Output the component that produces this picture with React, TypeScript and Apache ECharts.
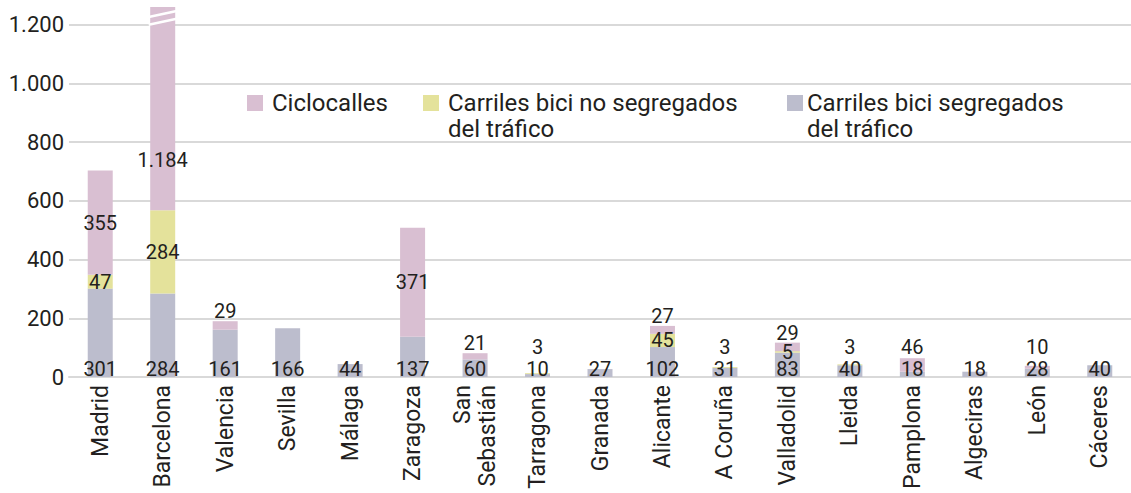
import React, { useEffect, useRef } from "react";
import * as echarts from "echarts";

const categories = [
  "Madrid", "Barcelona", "Valencia", "Sevilla", "Málaga", "Zaragoza", "San\nSebastián",
  "Tarragona", "Granada", "Alicante", "A Coruña", "Valladolid", "Lleida", "Pamplona",
  "Algeciras", "León", "Cáceres",
];
const segregados = [301, 284, 161, 166, 44, 137, 60, 10, 27, 102, 31, 83, 40, 18, 18, 28, 40];
const noSegregados = [47, 284, 0, 0, 0, 0, 0, 3, 0, 45, 3, 5, 3, 0, 0, 0, 0];
const ciclocalles = [355, 1184, 29, 0, 0, 371, 21, 0, 0, 27, 0, 29, 0, 46, 0, 10, 0];
const yTicks = [0, 200, 400, 600, 800, 1000, 1200];

const SERIES_NAMES = [
  "Carriles bici segregados del tráfico",
  "Carriles bici no segregados del tráfico",
  "Ciclocalles",
];
const COLORS = ["#bcbdcd", "#e4e29b", "#d9bfd2"];
const TEXT = "#231f20";
const FONT = "Roboto";
const Y_MAX = 1260;
const PLOT_H = 370;

const fmt = (v: number) => String(v).replace(/\B(?=(\d{3})+(?!\d))/g, ".");

export default function App() {
  const ref = useRef<HTMLDivElement>(null);
  useEffect(() => {
    if (!ref.current) return;
    const chart = echarts.init(ref.current, undefined, { renderer: "svg" });
    const all = [segregados, noSegregados, ciclocalles];

    const buildData = (si: number) =>
      all[si].map((v, i) => {
        if (!v) return { value: null };
        const below = all.slice(0, si).reduce((s, a) => s + a[i], 0);
        const total = below + v;
        const isTop = all.slice(si + 1).every((a) => !a[i]);
        let label: any;
        if (si === 0) {
          label = { position: "insideBottom", distance: 0 };
        } else if (total > Y_MAX) {
          label = { position: "insideBottom", distance: 42 };
        } else if (isTop && v < 100) {
          const natural = (total * PLOT_H) / Y_MAX + 10;
          const wanted = Math.max(natural, 30);
          label = { position: "top", distance: 2, offset: [0, -(wanted - natural)] };
        } else {
          label = { position: "inside" };
        }
        return { value: v, label };
      });

    const series = [0, 1, 2].map((si) => ({
      name: SERIES_NAMES[si],
      type: "bar",
      stack: "total",
      barWidth: 25,
      clip: true,
      itemStyle: { color: COLORS[si] },
      label: {
        show: true,
        color: TEXT,
        fontFamily: FONT,
        fontSize: 20,
        lineHeight: 16,
        formatter: (p: any) => fmt(p.value),
      },
      emphasis: { disabled: true },
      data: buildData(si),
    }));

    const legendBase = {
      orient: "horizontal",
      padding: 0,
      itemWidth: 16,
      itemHeight: 16,
      icon: "rect",
      selectedMode: false,
      textStyle: { color: TEXT, fontFamily: FONT, fontSize: 24, lineHeight: 26 },
    };

    chart.setOption({
      animation: false,
      grid: { left: 69, right: -10, top: 7, bottom: 116, containLabel: false },
      legend: [
        { ...legendBase, data: ["Ciclocalles"], left: 247, top: 90,
          textStyle: { ...legendBase.textStyle, padding: [0, 0, 0, 4] } },
        { ...legendBase, data: [SERIES_NAMES[1]], left: 423, top: 64,
          formatter: () => "\nCarriles bici no segregados\ndel tráfico",
          textStyle: { ...legendBase.textStyle, padding: [0, 0, 0, 4] } },
        { ...legendBase, data: [SERIES_NAMES[0]], left: 787, top: 64,
          formatter: () => "\nCarriles bici segregados\ndel tráfico",
          textStyle: { ...legendBase.textStyle, padding: [0, 0, 0, -1] } },
      ],
      xAxis: {
        type: "category",
        data: categories,
        axisLine: { lineStyle: { color: "#d9d9d9", width: 2 } },
        axisTick: { show: false },
        axisLabel: {
          rotate: 90,
          margin: 8,
          color: TEXT,
          fontFamily: FONT,
          fontSize: 23,
          lineHeight: 25,
          interval: 0,
        },
      },
      yAxis: {
        type: "value",
        min: yTicks[0],
        max: Y_MAX,
        interval: yTicks[1] - yTicks[0],
        axisLine: { show: false },
        axisTick: { show: false },
        axisLabel: {
          margin: 5,
          color: TEXT,
          fontFamily: FONT,
          fontSize: 22,
          showMaxLabel: false,
          formatter: (v: number) => (yTicks.includes(v) ? fmt(v) : ""),
        },
        splitLine: { showMaxLine: false, lineStyle: { color: "#d9d9d9", width: 2 } },
      },
      series,
    });

    // break marks on the clipped Barcelona bar
    const bi = ciclocalles.reduce((m, v, i) => (segregados[i] + noSegregados[i] + v > Y_MAX ? i : m), -1);
    if (bi >= 0) {
      const cx = chart.convertToPixel({ gridIndex: 0 }, [bi, 0])[0];
      const yA = chart.convertToPixel({ gridIndex: 0 }, [bi, 1236])[1];
      const yB = chart.convertToPixel({ gridIndex: 0 }, [bi, 1210])[1];
      const half = 14;
      chart.setOption({
        graphic: [yA, yB].map((y) => ({
          type: "line",
          shape: { x1: cx - half, y1: y + 3, x2: cx + half, y2: y - 3 },
          style: { stroke: "#ffffff", lineWidth: 2.5 },
          z: 100,
        })),
      });
    }

    return () => chart.dispose();
  }, []);
  return (
    <div
      ref={ref}
      style={{ position: "absolute", left: 0, top: 0, width: 1131, height: 493, overflow: "hidden" }}
    />
  );
}
